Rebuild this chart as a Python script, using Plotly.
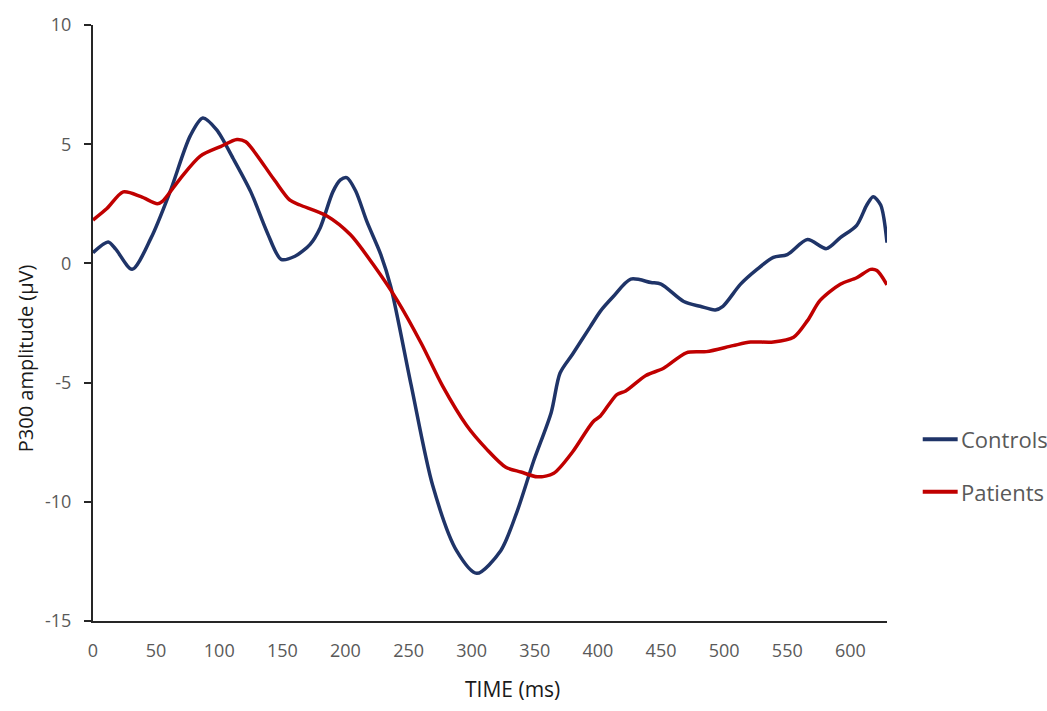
import plotly.graph_objects as go

# Grand-average P300 waveforms
controls_t = [0, 12, 18, 31, 46, 61, 77, 87, 98, 111, 125, 138, 149, 160, 172, 180,
              190, 196, 201, 208, 217, 228, 236, 252, 269, 288, 304, 323, 336, 349,
              363, 370, 380, 394, 402, 412, 426, 442, 450, 468, 481, 493, 499, 513,
              526, 539, 550, 566, 581, 592, 605, 613, 618, 624, 629]
controls_uv = [0.45, 0.9, 0.6, -0.25, 1.07, 3.0, 5.35, 6.1, 5.6, 4.4, 3.0, 1.3, 0.17,
               0.3, 0.8, 1.5, 3.0, 3.5, 3.6, 3.05, 1.75, 0.37, -1.0, -5.1, -9.3,
               -12.05, -13.0, -12.05, -10.4, -8.3, -6.25, -4.6, -3.8, -2.65, -2.0,
               -1.4, -0.66, -0.8, -0.87, -1.6, -1.8, -1.95, -1.8, -0.87, -0.25, 0.25,
               0.37, 1.0, 0.62, 1.08, 1.6, 2.45, 2.8, 2.45, 0.87]

patients_t = [0, 11, 24, 38, 51, 55, 69, 85, 101, 114, 121, 143, 156, 164, 185, 204,
              222, 241, 260, 277, 296, 312, 327, 339, 352, 365, 380, 396, 402, 415,
              422, 438, 452, 470, 486, 507, 521, 539, 555, 566, 576, 592, 605, 616,
              621, 629]
patients_uv = [1.82, 2.3, 3.0, 2.8, 2.5, 2.6, 3.55, 4.5, 4.9, 5.2, 5.1, 3.55, 2.65,
               2.45, 2.0, 1.2, -0.05, -1.55, -3.35, -5.15, -6.8, -7.8, -8.55, -8.75,
               -8.95, -8.8, -7.9, -6.65, -6.4, -5.5, -5.35, -4.7, -4.4, -3.75, -3.7,
               -3.45, -3.3, -3.3, -3.1, -2.4, -1.55, -0.87, -0.6, -0.25, -0.3, -0.9]

series_names = ["Controls", "Patients"]
series_colors = ["#1F3468", "#C00000"]

x_ticks = [0, 50, 100, 150, 200, 250, 300, 350, 400, 450, 500, 550, 600]
y_ticks = [-15, -10, -5, 0, 5, 10]
y_tick_text = ["-15", "-10", "-5", "0", "5", "10"]

FONT = "Open Sans"
TICK_GREY = "#595959"
TITLE_COLOR = "#1a1a1a"

fig = go.Figure()
for name, color, t, uv in zip(series_names, series_colors,
                              [controls_t, patients_t], [controls_uv, patients_uv]):
    fig.add_trace(go.Scatter(
        x=t, y=uv, mode="lines", name=name, showlegend=False,
        line=dict(color=color, width=3.5, shape="spline", smoothing=0.8),
    ))

# Legend drawn as short line keys with labels to the right of the plot
legend_y = [0.305, 0.217]
shapes = []
annotations = []
for name, color, ly in zip(series_names, series_colors, legend_y):
    shapes.append(dict(type="line", xref="paper", yref="paper",
                       x0=1.045, x1=1.089, y0=ly, y1=ly,
                       line=dict(color=color, width=4)))
    annotations.append(dict(text=name, xref="paper", yref="paper", x=1.091, y=ly,
                            xanchor="left", yanchor="middle", showarrow=False,
                            font=dict(size=22, color=TICK_GREY, family=FONT)))

annotations += [
    dict(text="TIME (ms)", xref="paper", yref="paper", x=0.528, y=-0.1144,
         xanchor="center", yanchor="middle", showarrow=False,
         font=dict(size=21, color=TITLE_COLOR, family=FONT)),
    dict(text="P300 amplitude (µV)", xref="paper", yref="paper", x=-0.0856, y=0.441,
         xanchor="center", yanchor="middle", showarrow=False, textangle=-90,
         font=dict(size=20, color=TITLE_COLOR, family=FONT)),
]

fig.update_layout(
    width=1047, height=711,
    margin=dict(l=93, r=160, t=18, b=90),
    paper_bgcolor="white", plot_bgcolor="white",
    font=dict(family=FONT, color=TICK_GREY, size=18),
    showlegend=False,
    xaxis=dict(
        range=[0, 629], tickvals=x_ticks, showgrid=False, zeroline=False,
        showline=True, linecolor="#262626", linewidth=2, ticks="",
        tickfont=dict(size=18, color=TICK_GREY), ticklabelstandoff=12,
    ),
    yaxis=dict(
        range=[-15, 10], tickvals=y_ticks, ticktext=y_tick_text,
        showgrid=False, zeroline=False,
        showline=True, linecolor="#262626", linewidth=2, ticks="outside",
        ticklen=7, tickcolor="#262626", tickwidth=2,
        tickfont=dict(size=18, color=TICK_GREY), ticklabelstandoff=9,
    ),
    shapes=shapes,
    annotations=annotations,
)

fig.write_html("out.html")
